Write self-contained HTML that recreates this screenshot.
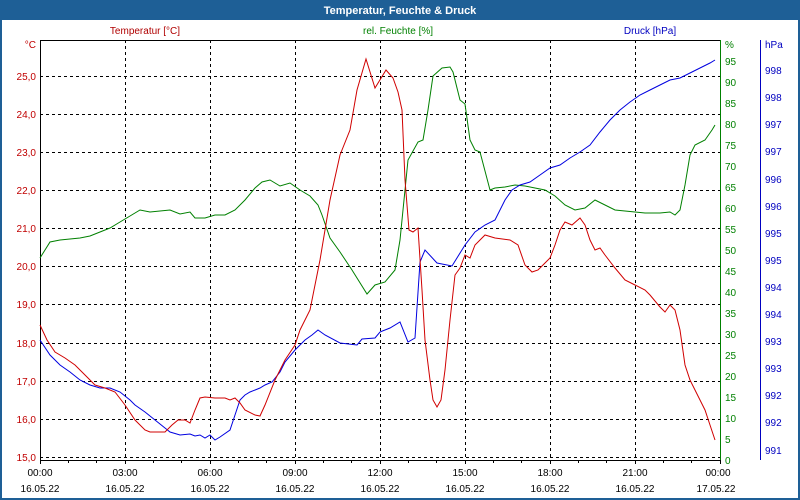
<!DOCTYPE html>
<html><head><meta charset="utf-8"><style>
body{margin:0;width:800px;height:500px;overflow:hidden;background:#fff}
svg{display:block;font-family:"Liberation Sans",sans-serif}
</style></head><body>
<svg width="800" height="500" viewBox="0 0 800 500">
<rect x="0" y="0" width="800" height="500" fill="#1e5f96"/>
<rect x="2" y="20" width="796" height="478" fill="#fff"/>
<text x="400" y="14" font-size="11" font-weight="bold" fill="#fff" text-anchor="middle">Temperatur, Feuchte &amp; Druck</text>
<text x="145" y="34" font-size="10" fill="#b00000" text-anchor="middle">Temperatur [°C]</text>
<text x="398" y="34" font-size="10" fill="#008000" text-anchor="middle">rel. Feuchte [%]</text>
<text x="650" y="34" font-size="10" fill="#0000c0" text-anchor="middle">Druck [hPa]</text>
<g stroke="#000" stroke-dasharray="3,3" stroke-width="1">
<path d="M125.5 40V460M210.5 40V460M295.5 40V460M380.5 40V460M465.5 40V460M550.5 40V460M635.5 40V460"/>
<path d="M40 76.5H720M40 114.5H720M40 152.5H720M40 190.5H720M40 228.5H720M40 266.5H720M40 304.5H720M40 343.5H720M40 381.5H720M40 419.5H720M40 457.5H720"/>
</g>
<path d="M40.5 40.5H720M40.5 40V460.5H720" fill="none" stroke="#000"/>
<g stroke="#000"><path d="M40.5 460v4M68.5 460v3M96.5 460v3M125.5 460v4M153.5 460v3M181.5 460v3M210.5 460v4M238.5 460v3M266.5 460v3M295.5 460v4M323.5 460v3M351.5 460v3M380.5 460v4M408.5 460v3M436.5 460v3M465.5 460v4M493.5 460v3M521.5 460v3M550.5 460v4M578.5 460v3M606.5 460v3M635.5 460v4M663.5 460v3M691.5 460v3M720.5 460v4"/></g>
<path d="M720.5 40V460" stroke="#008000"/>
<path d="M760.5 40V460" stroke="#0000c0"/>
<g font-size="10" fill="#c00000" text-anchor="end">
<text x="36" y="48">°C</text><text x="36" y="80">25,0</text><text x="36" y="118">24,0</text><text x="36" y="156">23,0</text><text x="36" y="194">22,0</text><text x="36" y="232">21,0</text><text x="36" y="270">20,0</text><text x="36" y="308">19,0</text><text x="36" y="347">18,0</text><text x="36" y="385">17,0</text><text x="36" y="423">16,0</text><text x="36" y="461">15,0</text>
</g>
<g font-size="10" fill="#008000">
<text x="725" y="48">%</text><text x="725" y="65">95</text><text x="725" y="86">90</text><text x="725" y="107">85</text><text x="725" y="128">80</text><text x="725" y="149">75</text><text x="725" y="170">70</text><text x="725" y="191">65</text><text x="725" y="212">60</text><text x="725" y="233">55</text><text x="725" y="254">50</text><text x="725" y="275">45</text><text x="725" y="296">40</text><text x="725" y="317">35</text><text x="725" y="338">30</text><text x="725" y="359">25</text><text x="725" y="380">20</text><text x="725" y="401">15</text><text x="725" y="422">10</text><text x="725" y="443">5</text><text x="725" y="464">0</text>
</g>
<g font-size="10" fill="#0000c0">
<text x="765" y="48">hPa</text><text x="765" y="74">998</text><text x="765" y="101">998</text><text x="765" y="128">997</text><text x="765" y="155">997</text><text x="765" y="183">996</text><text x="765" y="210">996</text><text x="765" y="237">995</text><text x="765" y="264">995</text><text x="765" y="291">994</text><text x="765" y="318">994</text><text x="765" y="345">993</text><text x="765" y="372">993</text><text x="765" y="399">992</text><text x="765" y="426">992</text><text x="765" y="454">991</text>
</g>
<g font-size="10" fill="#000" text-anchor="middle">
<text x="40" y="476">00:00</text><text x="125" y="476">03:00</text><text x="210" y="476">06:00</text><text x="295" y="476">09:00</text><text x="380" y="476">12:00</text><text x="465" y="476">15:00</text><text x="550" y="476">18:00</text><text x="635" y="476">21:00</text><text x="718" y="476">00:00</text>
<text x="40" y="492">16.05.22</text><text x="125" y="492">16.05.22</text><text x="210" y="492">16.05.22</text><text x="295" y="492">16.05.22</text><text x="380" y="492">16.05.22</text><text x="465" y="492">16.05.22</text><text x="550" y="492">16.05.22</text><text x="635" y="492">16.05.22</text><text x="716" y="492">17.05.22</text>
</g>
<polyline fill="none" stroke="#008000" points="40,258 45,250 50,242 60,240 80,238 90,236 100,232 110,228 120,222 130,216 140,210 150,212 170,210 180,214 190,212 195,218 205,218 215,215 225,215 235,210 245,200 255,188 262,182 270,180 280,186 290,183 300,190 310,196 318,205 322,215 330,238 340,252 352,270 367,294 375,285 385,282 395,270 400,240 408,160 418,142 423,140 428,110 433,76 442,68 450,67 453,72 460,100 465,104 470,140 475,150 480,152 490,190 495,188 505,187 515,185 525,186 535,188 545,190 555,196 565,205 575,210 585,208 595,200 605,205 615,210 635,212 645,213 660,213 670,212 675,215 680,210 685,185 690,155 695,145 705,140 712,130 715,125"/>
<polyline fill="none" stroke="#0000e0" points="40,340 50,355 60,365 70,372 80,380 90,385 100,388 110,388 120,392 130,400 135,405 145,412 155,420 165,428 170,432 180,435 190,434 195,436 200,435 205,438 210,435 215,440 220,437 230,430 235,415 240,400 245,395 250,392 260,388 265,385 272,382 280,372 285,362 295,350 305,340 312,335 318,330 325,335 340,343 357,345 362,339 375,338 380,332 390,328 400,322 408,342 415,338 420,262 425,250 437,263 452,266 465,245 475,232 485,225 495,220 505,200 512,190 520,185 530,182 540,175 550,168 560,165 570,158 580,152 590,145 600,132 610,120 620,110 630,102 640,95 650,90 660,85 670,80 680,78 690,73 700,68 710,63 715,60"/>
<polyline fill="none" stroke="#d00000" points="40,325 47,340 55,352 65,358 75,365 85,375 95,385 105,388 115,392 125,405 135,420 145,430 150,432 165,432 172,425 178,420 185,420 190,423 195,410 200,398 205,397 215,398 225,398 230,400 235,398 240,403 245,410 255,415 260,416 265,405 275,380 285,360 295,345 300,330 310,310 320,260 330,200 340,155 350,130 357,90 366,59 375,88 386,70 393,78 398,92 402,110 405,180 409,230 413,232 418,228 422,290 425,340 430,380 433,400 437,407 441,400 445,370 450,320 455,275 460,268 465,255 470,258 475,245 485,235 495,238 510,240 518,245 525,265 532,272 538,270 543,265 550,258 555,245 560,230 565,222 572,225 580,218 585,225 590,240 595,250 600,248 605,255 615,268 625,280 635,285 645,290 650,295 660,307 665,312 670,305 675,310 680,330 685,365 690,380 695,390 700,400 705,410 710,425 715,440"/>
</svg>
</body></html>
